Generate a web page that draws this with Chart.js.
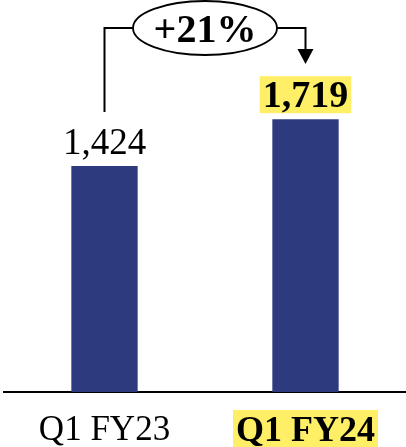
<!DOCTYPE html>
<html><head><meta charset="utf-8">
<script src="https://cdn.jsdelivr.net/npm/chart.js@4.4.0/dist/chart.umd.min.js"></script>
<style>html,body{margin:0;padding:0;background:#fff}#w{width:406px;height:447px}</style>
</head><body><div id="w"><canvas id="c"></canvas></div>
<script>
const categories = ['Q1 FY23', 'Q1 FY24'];
const revenue = [1424, 1719];
const valueLabels = ['1,424', '1,719'];
const growthLabel = '+21%';
const highlightIndex = 1;

const BAR = '#2E3A7E', YEL = '#FFEF66', SERIF = '"Liberation Serif", "DejaVu Serif", serif';

const overlay = {
  id: 'overlay',
  beforeDraw(chart) {
    const ctx = chart.ctx, x = chart.scales.x;
    ctx.save();
    ctx.font = 'bold 36px ' + SERIF;
    const w = ctx.measureText(categories[highlightIndex]).width;
    const cx = x.getPixelForTick(highlightIndex);
    ctx.fillStyle = YEL;
    ctx.fillRect(cx - w / 2 - 3, 410, w + 6, 37);
    ctx.restore();
  },
  afterDatasetsDraw(chart) {
    const ctx = chart.ctx;
    const bars = chart.getDatasetMeta(0).data;
    ctx.save();
    ctx.textAlign = 'center';
    ctx.textBaseline = 'alphabetic';
    bars.forEach((b, i) => {
      const bold = i === highlightIndex;
      ctx.font = (bold ? 'bold ' : '') + (bold ? '38px ' : '37px ') + SERIF;
      const t = valueLabels[i];
      const w = ctx.measureText(t).width;
      const base = b.y - 12;
      if (bold) {
        ctx.fillStyle = YEL;
        ctx.fillRect(b.x - w / 2 - 3, base - 31, w + 6, 37);
      }
      ctx.fillStyle = '#000';
      ctx.fillText(t, b.x, base);
    });
    // growth bracket
    const x1 = bars[0].x, x2 = bars[1].x;
    const ly = 28, ex = (x1 + x2) / 2, rx = 72, ry = 27;
    ctx.strokeStyle = '#000';
    ctx.lineWidth = 2;
    ctx.beginPath();
    ctx.moveTo(x1, bars[0].y - 54);
    ctx.lineTo(x1, ly);
    ctx.lineTo(ex - rx, ly);
    ctx.moveTo(ex + rx, ly);
    ctx.lineTo(x2, ly);
    ctx.lineTo(x2, 50);
    ctx.stroke();
    ctx.beginPath();
    ctx.moveTo(x2 - 8, 49);
    ctx.lineTo(x2 + 8, 49);
    ctx.lineTo(x2, 64);
    ctx.closePath();
    ctx.fillStyle = '#000';
    ctx.fill();
    ctx.beginPath();
    ctx.ellipse(ex, ly, rx, ry, 0, 0, Math.PI * 2);
    ctx.fillStyle = '#fff';
    ctx.fill();
    ctx.lineWidth = 1.8;
    ctx.stroke();
    ctx.fillStyle = '#000';
    ctx.font = 'bold 40px ' + SERIF;
    ctx.fillText(growthLabel, ex, 42);
    ctx.restore();
  }
};

new Chart(document.getElementById('c'), {
  type: 'bar',
  data: {
    labels: categories,
    datasets: [{ data: revenue, backgroundColor: BAR, barPercentage: 0.33, categoryPercentage: 1 }]
  },
  options: {
    responsive: true,
    maintainAspectRatio: false,
    animation: false,
    layout: { padding: { left: 4, right: 0, top: 0, bottom: 0 } },
    plugins: { legend: { display: false }, tooltip: { enabled: false } },
    scales: {
      y: { display: false, min: 0, max: 2470 },
      x: {
        afterFit(s) { s.height = 55; },
        grid: { display: false },
        border: { display: true, color: '#000', width: 2 },
        ticks: {
          color: '#000',
          padding: 10,
          font: (c) => ({ family: SERIF, size: c.index === highlightIndex ? 36 : 35, weight: c.index === highlightIndex ? 'bold' : 'normal' })
        }
      }
    }
  },
  plugins: [overlay]
});
</script></body></html>
